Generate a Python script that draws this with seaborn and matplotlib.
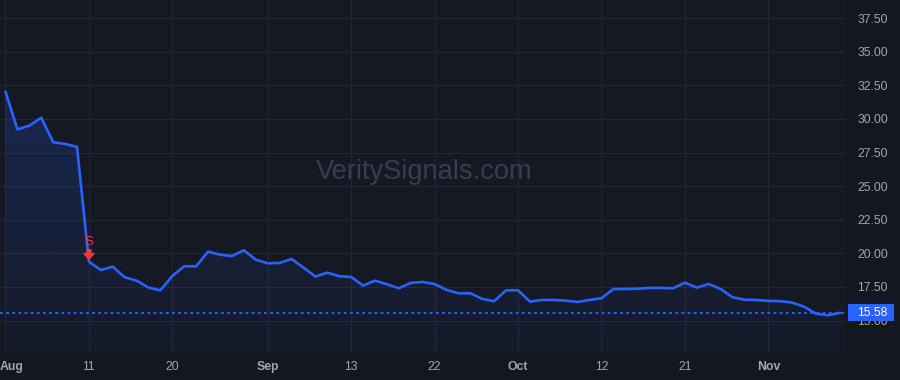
import numpy as np
import pandas as pd
import seaborn as sns
import matplotlib
matplotlib.use("Agg")
import matplotlib.pyplot as plt
from matplotlib.patches import Rectangle
import matplotlib.transforms as mtransforms

# ---------------- data ----------------
day_index = list(range(71))
close = [32.03, 29.23, 29.50, 30.10, 28.27, 28.14, 27.92, 19.38, 18.76, 19.01,
         18.22, 17.97, 17.45, 17.25, 18.32, 19.04, 19.04, 20.13, 19.90, 19.80,
         20.23, 19.53, 19.26, 19.29, 19.58, 18.94, 18.27, 18.56, 18.30, 18.24,
         17.60, 17.97, 17.70, 17.40, 17.80, 17.87, 17.72, 17.28, 17.03, 17.03,
         16.61, 16.44, 17.25, 17.25, 16.41, 16.53, 16.53, 16.48, 16.38, 16.53,
         16.66, 17.35, 17.35, 17.37, 17.43, 17.43, 17.40, 17.82, 17.45, 17.72,
         17.35, 16.73, 16.55, 16.53, 16.46, 16.44, 16.34, 16.03, 15.51, 15.39, 15.58]
x_tick_pos = [0, 7, 14, 22, 29, 36, 43, 50, 57, 64]
x_tick_labels = ["Aug", "11", "20", "Sep", "13", "22", "Oct", "12", "21", "Nov"]
month_labels = ["Aug", "Sep", "Oct", "Nov"]
y_ticks = [15.0, 17.5, 20.0, 22.5, 25.0, 27.5, 30.0, 32.5, 35.0, 37.5]
signal_index = 7
signal_label = "S"
watermark = "VeritySignals.com"

df = pd.DataFrame({"day": day_index, "close": close})

# ---------------- style ----------------
BG_FIG = "#131722"
BG_AX = "#151924"
GRID = "#242834"
LINE = "#2962FF"
TXT = "#a3a6af"
RED = "#F23645"

sns.set_theme(style="dark")
plt.rcParams["font.family"] = ["Liberation Sans", "DejaVu Sans"]

fig = plt.figure(figsize=(9, 3.8), dpi=100, facecolor=BG_FIG)
ax = fig.add_axes([0, 28 / 380, 845 / 900, 352 / 380])
ax.set_facecolor(BG_AX)

ymin, ymax = 12.66, 38.85
xmin, xmax = -0.46, 70.43
ax.set_xlim(xmin, xmax)
ax.set_ylim(ymin, ymax)

# gradient area under the line
poly = ax.fill_between(df["day"], df["close"], ymin, facecolor="none", edgecolor="none")
top_v = max(close)
n = 256
grad = np.zeros((n, 1, 4))
rgb = matplotlib.colors.to_rgb(LINE)
grad[:, 0, 0:3] = rgb
grad[:, 0, 3] = np.linspace(0.20, 0.02, n)
im = ax.imshow(grad, extent=[xmin, xmax, ymin, top_v], origin="upper",
               aspect="auto", zorder=1, interpolation="bilinear")
path = poly.get_paths()[0]
im.set_clip_path(path, transform=ax.transData)
ax.set_xlim(xmin, xmax)
ax.set_ylim(ymin, ymax)

# line
sns.lineplot(data=df, x="day", y="close", ax=ax, color=LINE, linewidth=1.9, zorder=3)

# last price dotted line
last = close[-1]
ax.axhline(last, color=LINE, linewidth=1.3, linestyle=(0, (1.6, 1.8)), zorder=2)

# grid
ax.grid(True, color=GRID, linewidth=0.8)
for s in ax.spines.values():
    s.set_visible(False)

ax.set_xticks(x_tick_pos)
ax.set_xticklabels(x_tick_labels)
ax.set_yticks(y_ticks)
ax.set_yticklabels([f"{v:.2f}" for v in y_ticks])
ax.yaxis.tick_right()
ax.tick_params(axis="y", length=0, pad=9, labelsize=8.8, labelcolor=TXT)
ax.tick_params(axis="x", length=0, pad=6.5, labelsize=8.8, labelcolor=TXT)
ax.set_xlabel("")
ax.set_ylabel("")
for lab in ax.get_xticklabels():
    if lab.get_text() in month_labels:
        lab.set_fontweight("bold")
first = ax.get_xticklabels()[0]
first.set_transform(first.get_transform() + mtransforms.ScaledTranslation(6 / 100, 0, fig.dpi_scale_trans))

# price label box
trans = mtransforms.blended_transform_factory(ax.transAxes, ax.transData)
box_h = 16.7 / 13.44
ax.add_patch(Rectangle((1.0035, last - box_h / 2), 0.0545, box_h, transform=trans,
                       facecolor=LINE, edgecolor="none", clip_on=False, zorder=5))
ax.text(1.0035 + 0.0545 / 2 + 0.002, last, f"{last:.2f}", transform=trans, ha="center", va="center",
        color="white", fontsize=8.8, zorder=6, clip_on=False)

# signal marker
sv = close[signal_index]
ax.annotate("", xy=(signal_index, sv), xytext=(0, 12), textcoords="offset pixels",
            xycoords="data",
            arrowprops=dict(arrowstyle="simple,head_width=0.9,head_length=0.55,tail_width=0.35",
                            mutation_scale=8, color=RED, shrinkA=0, shrinkB=1.5), zorder=6)
ax.annotate(signal_label, xy=(signal_index, sv), xytext=(0, 19.5), textcoords="offset pixels",
            ha="center", va="center", color=RED, fontsize=9.5, zorder=6)

# watermark
ax.text(0.502, 0.51, watermark, transform=ax.transAxes, ha="center", va="center",
        fontsize=19.6, color="#3a3e4a", zorder=0.8)

fig.savefig("out.png", dpi=100, facecolor=BG_FIG)
